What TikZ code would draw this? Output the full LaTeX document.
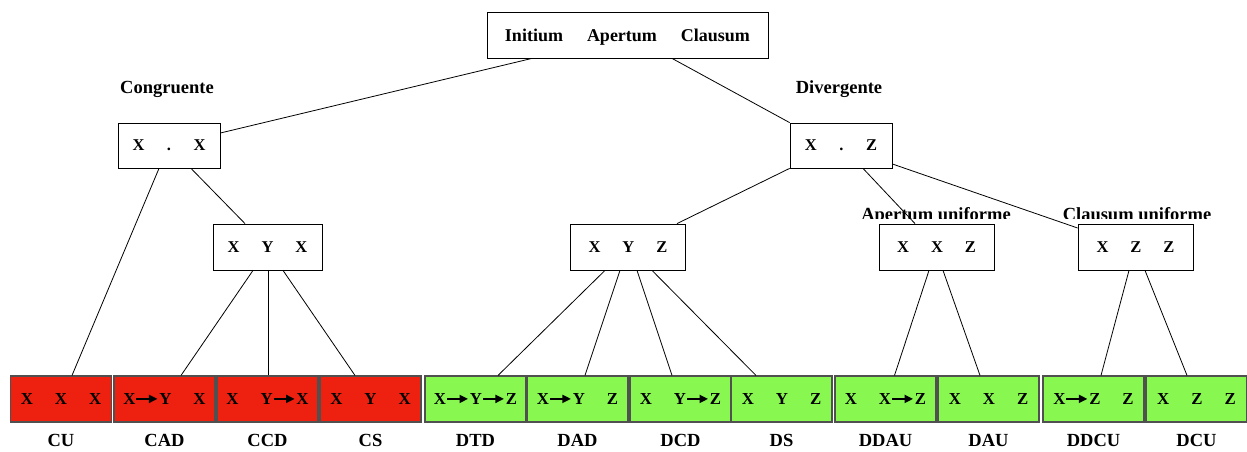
\documentclass[tikz,border=0pt]{standalone}
\usepackage{fontspec}
\setmainfont{Liberation Serif}
\usetikzlibrary{arrows.meta}

\definecolor{leafred}{RGB}{238,32,16}
\definecolor{leafgreen}{RGB}{136,248,80}
\definecolor{leafedge}{RGB}{80,80,80}

% blank gap between two letters, and a bold arrow of the same width
\newcommand\sgap{\hspace{22pt}}
\newcommand\rarr{\tikz[baseline=0pt]\draw[line width=1.8pt,-{Triangle[length=8.5pt,width=8pt]}] (0pt,5.6pt)--(21pt,5.6pt);\hspace{1pt}}

\tikzset{
  tbox/.style={draw=black, line width=0.8pt, fill=white, inner sep=0pt, text depth=0pt,
    minimum height=46pt, font=\fontsize{16.5}{18}\selectfont\bfseries},
  leafbox/.style={draw=leafedge, line width=1.1pt, inner sep=0pt, text depth=0pt,
    minimum width=101pt, minimum height=46pt, font=\fontsize{16.8}{18}\selectfont\bfseries},
  redleaf/.style={leafbox, fill=leafred},
  greenleaf/.style={leafbox, fill=leafgreen},
  tag/.style={inner sep=0pt, font=\fontsize{18.5}{20}\selectfont\bfseries},
  link/.style={draw=black, line width=0.8pt},
}

\begin{document}
\begin{tikzpicture}[x=1pt, y=-1pt]
\useasboundingbox (0,0) rectangle (1247,452);

% group labels
\node[tag] (lcong) at (167,89) {Congruente};
\node[tag] (ldiv)  at (839,89) {Divergente};
\node[tag, anchor=base] (lap) at (936,220.5) {Apertum uniforme};
\node[tag, anchor=base] (lcl) at (1137,220.5) {Clausum uniforme};
% the lower edge of the two uniforme labels is hidden behind a white band
\fill[white] (lap.west |- 0,218.5) rectangle (lap.east |- 0,224.5);
\fill[white] (lcl.west |- 0,218.5) rectangle (lcl.east |- 0,224.5);

% upper levels
\node[tbox, minimum width=281pt, font=\fontsize{18}{20}\selectfont\bfseries] (top) at (627.5,35)
  {Initium\hspace{24pt}Apertum\hspace{24pt}Clausum};
\node[tbox, minimum width=102pt, minimum height=45pt] (xx) at (169,145.5) {X\hspace{22.5pt}.\hspace{22.5pt}X};
\node[tbox, minimum width=102pt, minimum height=45pt] (xz) at (841,145.5) {X\hspace{22.5pt}.\hspace{22.5pt}Z};
\node[tbox, minimum width=109pt] (xyx) at (267.5,247) {X\hspace{22pt}Y\hspace{22pt}X};
\node[tbox, minimum width=115pt] (xyz) at (628,247) {X\hspace{22pt}Y\hspace{22pt}Z};
\node[tbox, minimum width=115pt] (xxz) at (936.5,247) {X\hspace{22pt}X\hspace{22pt}Z};
\node[tbox, minimum width=115pt] (xzz) at (1135.5,247) {X\hspace{22pt}Z\hspace{22pt}Z};

% leaves
\node[redleaf]   (cu)   at (61,399)     {X\sgap X\sgap X};
\node[redleaf]   (cad)  at (164.5,399)  {X\rarr Y\sgap X};
\node[redleaf]   (ccd)  at (267.5,399)  {X\sgap Y\rarr X};
\node[redleaf]   (cs)   at (370.5,399)  {X\sgap Y\sgap X};
\node[greenleaf] (dtd)  at (475.5,399)  {X\rarr Y\rarr Z};
\node[greenleaf] (dad)  at (577.5,399)  {X\rarr Y\sgap Z};
\node[greenleaf] (dcd)  at (680.5,399)  {X\sgap Y\rarr Z};
\node[greenleaf] (ds)   at (781.5,399)  {X\sgap Y\sgap Z};
\node[greenleaf] (ddau) at (885.5,399)  {X\sgap X\rarr Z};
\node[greenleaf] (dau)  at (988.5,399)  {X\sgap X\sgap Z};
\node[greenleaf] (ddcu) at (1093.5,399) {X\rarr Z\sgap Z};
\node[greenleaf] (dcu)  at (1196.5,399) {X\sgap Z\sgap Z};

% leaf names
\foreach \n/\t in {cu/CU, cad/CAD, ccd/CCD, cs/CS, dtd/DTD, dad/DAD, dcd/DCD,
                   ds/DS, ddau/DDAU, dau/DAU, ddcu/DDCU, dcu/DCU}
  \node[tag] (n\n) at ([yshift=-18pt]\n.south) {\t};

% connectors
\draw[link] ([xshift=-95.5pt]top.south) -- ([yshift=12.5pt]xx.east);
\draw[link] ([xshift=44.5pt]top.south) -- (xz.north west);

\draw[link] ([xshift=-10pt]xx.south) -- ([xshift=11pt]cu.north);
\draw[link] ([xshift=22pt]xx.south) -- ([xshift=-22.5pt]xyx.north);

\draw[link] ([xshift=-14.5pt]xyx.south) -- ([xshift=16.5pt]cad.north);
\draw[link] ([xshift=0.5pt]xyx.south) -- ([xshift=0.5pt]ccd.north);
\draw[link] ([xshift=15.5pt]xyx.south) -- ([xshift=-15.5pt]cs.north);

\draw[link] (xz.south west) -- ([xshift=49pt]xyz.north);
\draw[link] ([xshift=22pt]xz.south) -- ([xshift=-21.5pt]xxz.north);
\draw[link] ([yshift=-18.5pt]xz.east) -- ([yshift=19pt]xzz.west);

\draw[link] ([xshift=-23pt]xyz.south) -- ([xshift=22.5pt]dtd.north);
\draw[link] ([xshift=-8pt]xyz.south) -- ([xshift=7.5pt]dad.north);
\draw[link] ([xshift=9pt]xyz.south) -- ([xshift=-8.5pt]dcd.north);
\draw[link] ([xshift=24pt]xyz.south) -- ([xshift=-25.5pt]ds.north);

\draw[link] ([xshift=-7.5pt]xxz.south) -- ([xshift=9pt]ddau.north);
\draw[link] ([xshift=6.5pt]xxz.south) -- ([xshift=-8.5pt]dau.north);

\draw[link] ([xshift=-6.5pt]xzz.south) -- ([xshift=7.5pt]ddcu.north);
\draw[link] ([xshift=9.5pt]xzz.south) -- ([xshift=-9.5pt]dcu.north);
\end{tikzpicture}
\end{document}
